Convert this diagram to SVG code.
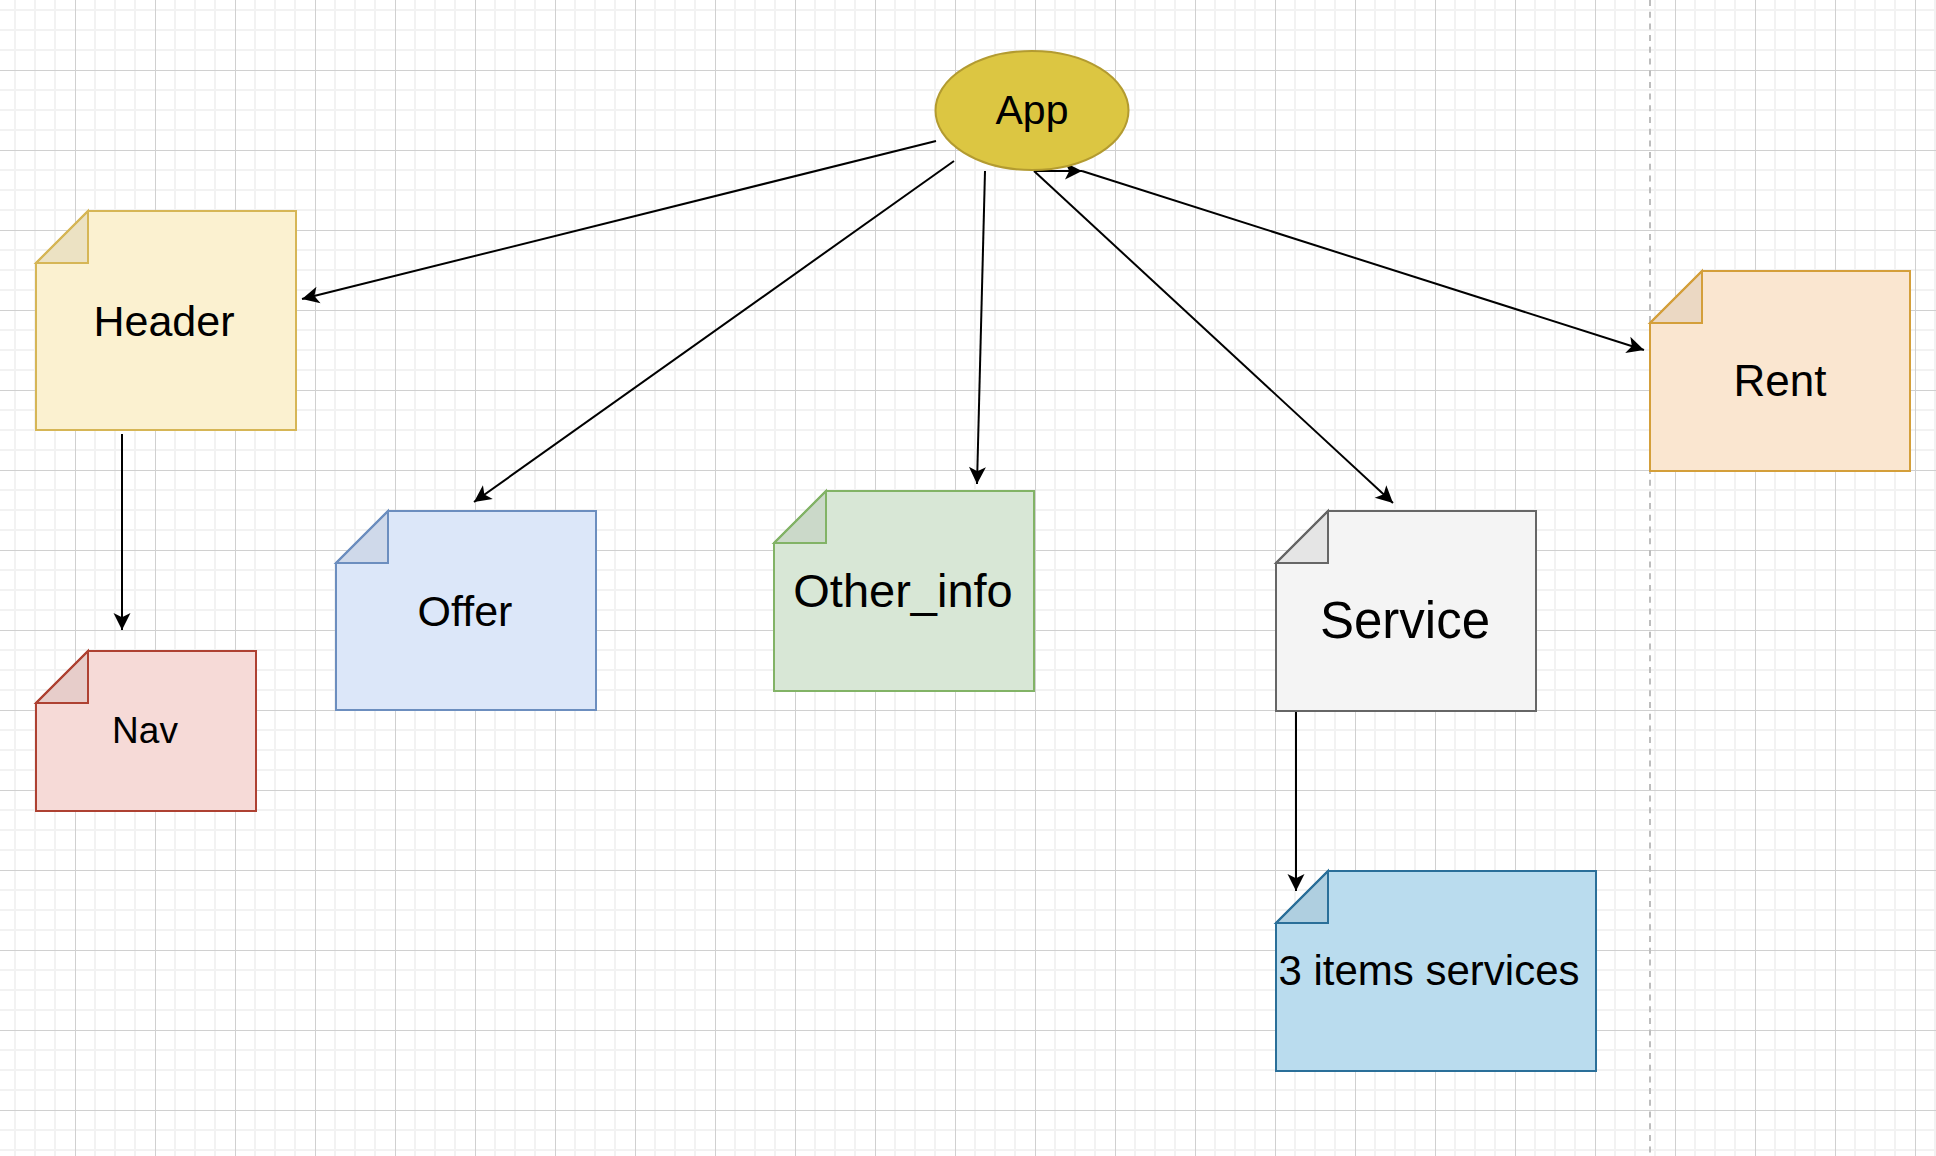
<svg xmlns="http://www.w3.org/2000/svg" width="1936" height="1156" viewBox="0 0 1936 1156">
  <style>
    .label { font-family: "Liberation Sans", Arial, Helvetica, sans-serif; fill: #000000; text-anchor: middle; }
    .edge { fill: none; stroke: #000000; stroke-width: 2; marker-end: url(#arrow); }
    .fold { fill: #000000; fill-opacity: 0.06; stroke-linejoin: miter; }
    .note { stroke-width: 2; }
  </style>
  <defs>
    <!-- canvas grid: minor every 20px, major every 80px -->
    <pattern id="grid" patternUnits="userSpaceOnUse" x="-5" y="-10" width="80" height="80">
      <rect width="80" height="80" fill="#ffffff"/>
      <g stroke="#f2f2f2" stroke-width="2">
        <line x1="20" y1="0" x2="20" y2="80"/>
        <line x1="40" y1="0" x2="40" y2="80"/>
        <line x1="60" y1="0" x2="60" y2="80"/>
        <line x1="0" y1="20" x2="80" y2="20"/>
        <line x1="0" y1="40" x2="80" y2="40"/>
        <line x1="0" y1="60" x2="80" y2="60"/>
      </g>
      <g stroke="#d0d0d0" stroke-width="1">
        <line x1="0.5" y1="0" x2="0.5" y2="80"/>
        <line x1="0" y1="0.5" x2="80" y2="0.5"/>
      </g>
    </pattern>
    <marker id="arrow" markerUnits="userSpaceOnUse" markerWidth="17" markerHeight="17" refX="17" refY="8.5" orient="auto" overflow="visible">
      <path d="M17,8.5 L0,0 L4.25,8.5 L0,17 Z" fill="#000000"/>
    </marker>
  </defs>

  <rect x="0" y="0" width="1936" height="1156" fill="url(#grid)"/>

  <!-- page break guide -->
  <line x1="1650" y1="0" x2="1650" y2="1156" stroke="#bdbdbd" stroke-width="2" stroke-dasharray="6 5.7"/>

  <g id="connectors">
    <line class="edge" x1="936" y1="141" x2="302" y2="299"/>
    <line class="edge" x1="954" y1="161" x2="474" y2="502"/>
    <line class="edge" x1="985" y1="171" x2="977" y2="484"/>
    <line class="edge" x1="1034" y1="171" x2="1393" y2="503"/>
    <line class="edge" x1="1034" y1="171" x2="1082" y2="171"/>
    <line class="edge" x1="1082" y1="171" x2="1644" y2="350"/>
    <line class="edge" x1="122" y1="434" x2="122" y2="630"/>
    <line class="edge" x1="1296" y1="711" x2="1296" y2="891"/>
  </g>

  <g id="app">
    <ellipse cx="1032" cy="110.5" rx="96.5" ry="59.5" fill="#dcc642" stroke="#b39b30" stroke-width="2"/>
    <text class="label" x="1032" y="124" font-size="41">App</text>
  </g>

  <g id="header">
    <path class="note" d="M36,263 L88,211 L296,211 L296,430 L36,430 Z" fill="#fbf1d0" stroke="#d6b656"/>
    <path class="fold" d="M36,263 L88,211 L88,263 Z" stroke="#d6b656" stroke-width="2"/>
    <text class="label" x="164" y="336" font-size="43">Header</text>
  </g>

  <g id="nav">
    <path class="note" d="M36,703 L88,651 L256,651 L256,811 L36,811 Z" fill="#f6dad7" stroke="#ae4132"/>
    <path class="fold" d="M36,703 L88,651 L88,703 Z" stroke="#ae4132" stroke-width="2"/>
    <text class="label" x="145" y="743" font-size="37">Nav</text>
  </g>

  <g id="offer">
    <path class="note" d="M336,563 L388,511 L596,511 L596,710 L336,710 Z" fill="#dce7f9" stroke="#6c8ebf"/>
    <path class="fold" d="M336,563 L388,511 L388,563 Z" stroke="#6c8ebf" stroke-width="2"/>
    <text class="label" x="465" y="626" font-size="43">Offer</text>
  </g>

  <g id="other-info">
    <path class="note" d="M774,543 L826,491 L1034,491 L1034,691 L774,691 Z" fill="#d8e7d6" stroke="#82b366"/>
    <path class="fold" d="M774,543 L826,491 L826,543 Z" stroke="#82b366" stroke-width="2"/>
    <text class="label" x="903" y="607" font-size="47">Other_info</text>
  </g>

  <g id="service">
    <path class="note" d="M1276,563 L1328,511 L1536,511 L1536,711 L1276,711 Z" fill="#f4f4f4" stroke="#666666"/>
    <path class="fold" d="M1276,563 L1328,511 L1328,563 Z" stroke="#666666" stroke-width="2"/>
    <text class="label" x="1405" y="638" font-size="51">Service</text>
  </g>

  <g id="rent">
    <path class="note" d="M1650,323 L1702,271 L1910,271 L1910,471 L1650,471 Z" fill="#fae6d0" stroke="#d49f3a"/>
    <path class="fold" d="M1650,323 L1702,271 L1702,323 Z" stroke="#d49f3a" stroke-width="2"/>
    <text class="label" x="1780" y="396" font-size="44">Rent</text>
  </g>

  <g id="items-services">
    <path class="note" d="M1276,923 L1328,871 L1596,871 L1596,1071 L1276,1071 Z" fill="#badcee" stroke="#2a6f99"/>
    <path class="fold" d="M1276,923 L1328,871 L1328,923 Z" stroke="#2a6f99" stroke-width="2"/>
    <text class="label" x="1429" y="985" font-size="42">3 items services</text>
  </g>
</svg>
